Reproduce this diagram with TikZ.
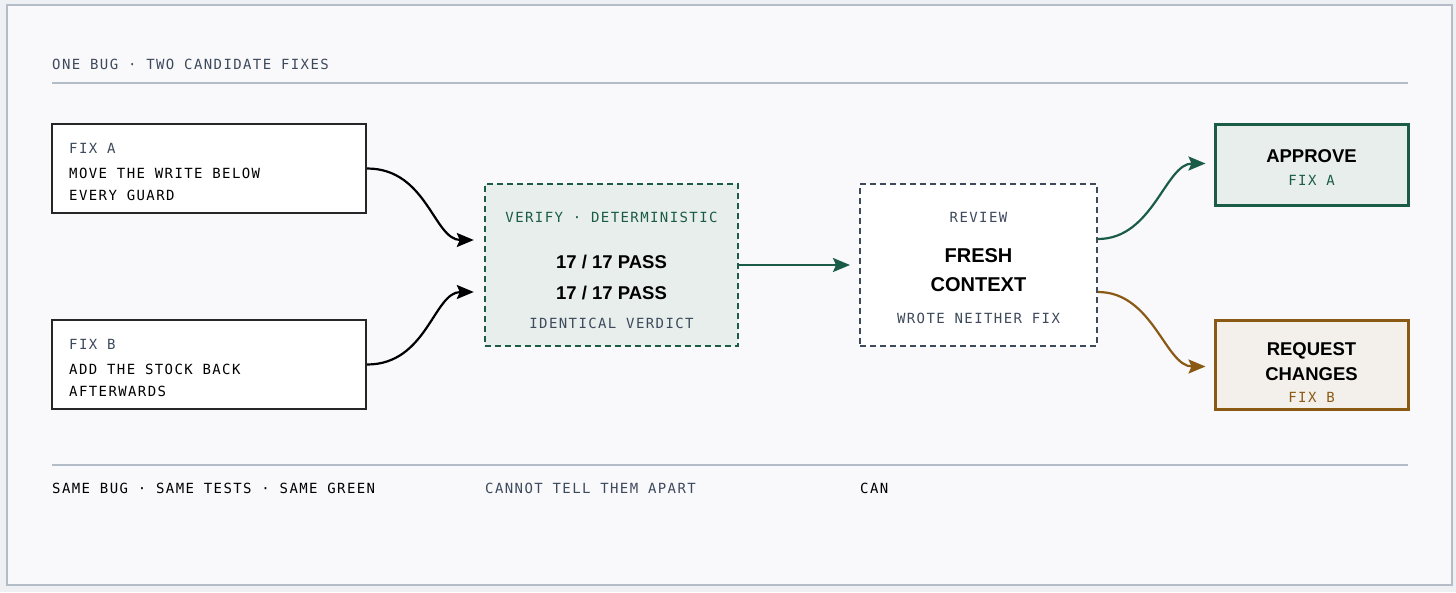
\documentclass[tikz,border=0pt]{standalone}
\usepackage{fontspec}
\setmainfont{Liberation Sans}
\newfontfamily\monofont[LetterSpace=10]{DejaVu Sans Mono}
\usetikzlibrary{arrows.meta, positioning, calc}
\definecolor{pagebg}{HTML}{EEF0F4}
\definecolor{panelbg}{HTML}{F9F9FC}
\definecolor{frame}{HTML}{B4BCC8}
\definecolor{slate}{HTML}{3D4A5C}
\definecolor{pine}{HTML}{1A5C45}
\definecolor{pinebg}{HTML}{E8EEEB}
\definecolor{rust}{HTML}{8A5A14}
\definecolor{rustbg}{HTML}{F3F0EC}
\tikzset{
  mono/.style={font=\monofont\fontsize{14}{15}\selectfont, anchor=base west, inner sep=0pt},
  monoc/.style={font=\monofont\fontsize{14}{15}\selectfont, anchor=base, inner sep=0pt},
  big/.style={font=\bfseries\fontsize{18.5}{20}\selectfont, anchor=base, inner sep=0pt},
  fixbox/.style={draw=black!85, line width=2.2pt, fill=white, inner sep=0pt, minimum width=314pt, minimum height=89pt},
  link/.style={line width=2.2pt, -{Stealth[length=17pt,width=14pt,inset=3pt]}}
}
\begin{document}
\begin{tikzpicture}[x=1pt,y=-1pt]
  \fill[pagebg] (0,0) rectangle (1456,592);
  \useasboundingbox (0,0) rectangle (1456,592);
  \draw[frame, fill=panelbg, line width=1.6pt] (7,5) rectangle (1452,585);
  % heading
  \node[mono, text=slate] (title) at (52,69) {ONE BUG · TWO CANDIDATE FIXES};
  \draw[frame, line width=1.4pt] (52,83) -- (1408,83);
  % candidate fixes
  \node[fixbox] (fixA) at (209,168.5) {};
  \node[mono, text=slate] at (69,153) {FIX A};
  \node[mono] at (69,178) {MOVE THE WRITE BELOW};
  \node[mono] at (69,200) {EVERY GUARD};
  \node[fixbox] (fixB) at (209,364.5) {};
  \node[mono, text=slate] at (69,349) {FIX B};
  \node[mono] at (69,374) {ADD THE STOCK BACK};
  \node[mono] at (69,396) {AFTERWARDS};
  % verify
  \node[draw=pine, dash pattern=on 6pt off 4pt, line width=2.4pt, fill=pinebg, minimum width=253pt, minimum height=162pt] (verify) at (611.5,265) {};
  \node[monoc, text=pine] at (611.5,222) {VERIFY · DETERMINISTIC};
  \node[big] at (611.5,268) {17 / 17 PASS};
  \node[big] at (611.5,299) {17 / 17 PASS};
  \node[monoc, text=slate] at (611.5,328) {IDENTICAL VERDICT};
  % review
  \node[draw=slate, dash pattern=on 6pt off 4pt, line width=2pt, fill=white, minimum width=237pt, minimum height=162pt] (review) at (978.5,265) {};
  \node[monoc, text=slate] at (978.5,222) {REVIEW};
  \node[big, font=\bfseries\fontsize{20}{22}\selectfont] at (978.5,262) {FRESH};
  \node[big, font=\bfseries\fontsize{20}{22}\selectfont] at (978.5,291) {CONTEXT};
  \node[monoc, text=slate] at (978.5,323) {WROTE NEITHER FIX};
  % outcomes
  \node[draw=pine, line width=3pt, fill=pinebg, minimum width=193pt, minimum height=81pt] (approve) at (1311.5,164.5) {};
  \node[big] at (1311.5,162) {APPROVE};
  \node[monoc, text=pine] at (1311.5,185) {FIX A};
  \node[draw=rust, line width=3pt, fill=rustbg, minimum width=193pt, minimum height=89pt] (request) at (1311.5,364.5) {};
  \node[big] at (1311.5,355) {REQUEST};
  \node[big] at (1311.5,380) {CHANGES};
  \node[monoc, text=rust] at (1311.5,402) {FIX B};
  % connectors
  \coordinate (inA) at ($(verify.west)+(-10,-25)$);
  \coordinate (inB) at ($(verify.west)+(-10,27)$);
  \draw[link] (fixA.east) .. controls +(60,0) and +(-40,0) .. (inA);
  \draw[link] (fixB.east) .. controls +(60,0) and +(-40,0) .. (inB);
  \draw[link, pine] (verify.east) -- ($(review.west)+(-9,0)$);
  \draw[link, pine] ($(review.east)+(0,-26)$) .. controls +(55,0) and +(-40,0) .. ($(approve.west)+(-8,-1)$);
  \draw[link, rust] ($(review.east)+(0,27)$) .. controls +(55,0) and +(-40,0) .. ($(request.west)+(-8,2)$);
  % footer
  \draw[frame, line width=1.4pt] (52,465) -- (1408,465);
  \node[mono] (same) at (52,493) {SAME BUG · SAME TESTS · SAME GREEN};
  \node[mono, text=slate] (cannot) at (485,493) {CANNOT TELL THEM APART};
  \node[mono] (can) at (860,493) {CAN};
\end{tikzpicture}
\end{document}
